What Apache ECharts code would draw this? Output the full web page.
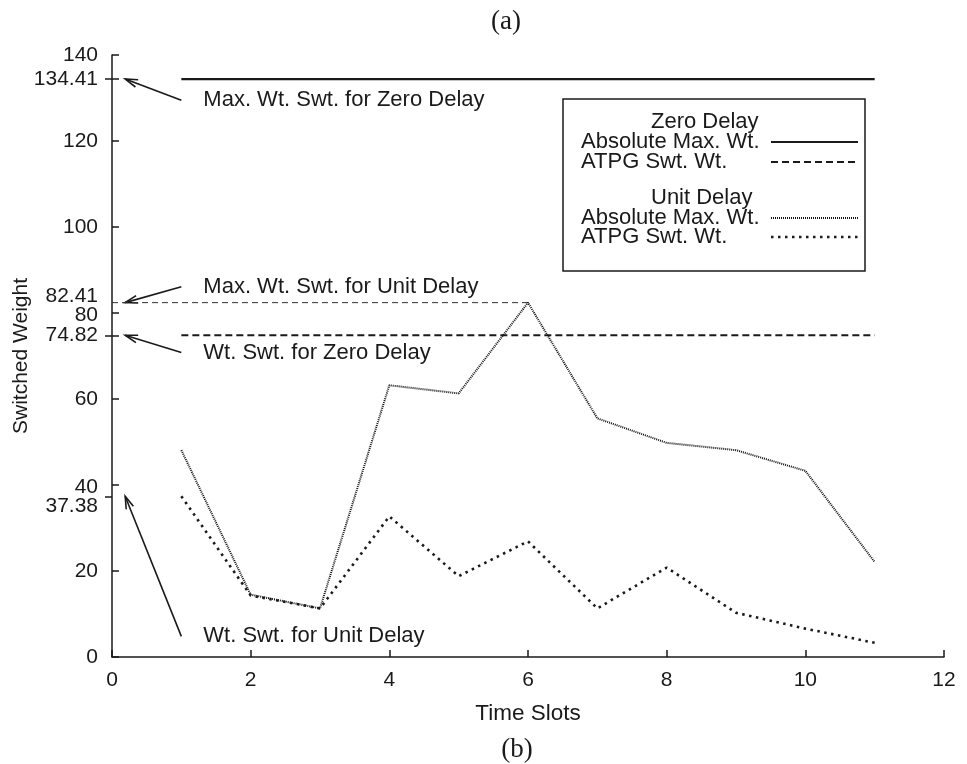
<!DOCTYPE html>
<html>
<head>
<meta charset="utf-8">
<script src="https://cdn.jsdelivr.net/npm/echarts@6/dist/echarts.min.js"></script>
<style>
  html, body { margin: 0; padding: 0; background: #fff; }
  #chart { width: 967px; height: 764px; }
</style>
</head>
<body>
<div id="chart"></div>
<script>
// time slots on x
var slots = [1, 2, 3, 4, 5, 6, 7, 8, 9, 10, 11];
// unit delay curves
var unitMax = [48.1, 14.5, 11.3, 63.2, 61.3, 82.41, 55.5, 49.8, 48.1, 43.3, 22.1];
var unitAtpg = [37.38, 14.3, 11.3, 32.7, 18.8, 26.9, 11.3, 20.8, 10.3, 6.6, 3.3];
// zero delay levels (flat over slots 1..11)
var zeroMax = 134.41;
var zeroAtpg = 74.82;
var zeroSpan = [1, 11];
// guide for unit delay max, from axis to its peak slot
var unitPeak = 82.41;
var unitPeakSlot = 6;

// y tick labels
var yLabels = [0, 20, 37.38, 40, 60, 74.82, 80, 82.41, 100, 120, 134.41, 140];
var yTicksIn = [0, 20, 40, 60, 80, 100, 120, 140, 134.41, 74.82];
var yTicksOut = [134.41, 74.82, 37.38];

// annotations: tail (x,y), tip (x,y), text
var annTail = [[1, 129.5], [1, 86.1], [1, 70.8], [1, 4.8]];
var annTip = [[0.19, 134.41], [0.19, 82.41], [0.19, 74.82], [0.19, 37.38]];
var annText = ['Max. Wt. Swt. for Zero Delay', 'Max. Wt. Swt. for Unit Delay',
               'Wt. Swt. for Zero Delay', 'Wt. Swt. for Unit Delay'];

var FONT = 'Liberation Sans';
var INK = '#1a1a1a';

function pairs(xs, ys) {
    var out = [];
    for (var i = 0; i < xs.length; i++) out.push([xs[i], ys[i]]);
    return out;
}

var annData = [];
for (var i = 0; i < annTail.length; i++) {
    annData.push([annTail[i][0], annTail[i][1], annTip[i][0], annTip[i][1]]);
}

function legendText(x, y, s) {
    return { type: 'text', x: x, y: y, z: 11,
             style: { text: s, fontFamily: FONT, fontSize: 22, fill: INK, align: 'left', verticalAlign: 'middle' } };
}

var myChart = echarts.init(document.getElementById('chart'));

var option = {
    backgroundColor: '#fff',
    animation: false,
    grid: { left: 112, right: 23, top: 55, bottom: 107, containLabel: false, outerBoundsMode: 'none' },
    xAxis: {
        type: 'value', min: 0, max: 12, interval: 2,
        name: 'Time Slots', nameLocation: 'middle', nameGap: 45, nameMoveOverlap: false,
        nameTextStyle: { fontFamily: FONT, fontSize: 22.5, color: INK },
        axisLine: { show: true, lineStyle: { color: INK, width: 1.5 } },
        axisTick: { show: true, inside: true, length: 7, lineStyle: { color: INK, width: 1.5 } },
        axisLabel: { margin: 13, fontFamily: FONT, fontSize: 21, color: INK },
        splitLine: { show: false }
    },
    yAxis: [{
        type: 'value', min: 0, max: 140,
        name: 'Switched Weight', nameLocation: 'middle', nameGap: 80, nameMoveOverlap: false,
        nameTextStyle: { fontFamily: FONT, fontSize: 21, color: INK },
        axisLine: { show: true, lineStyle: { color: INK, width: 1.5 } },
        axisTick: { show: true, inside: true, length: 7, customValues: yTicksIn, lineStyle: { color: INK, width: 1.5 } },
        axisLabel: {
            margin: 14, fontFamily: FONT, fontSize: 21, color: INK,
            customValues: yLabels,
            formatter: function (v) {
                //几个挤在一起的标签需要上下挪一下
                if (v === 82.41) return '{up|' + v + '}';
                if (v === 80 || v === 40) return '{dn|' + v + '}';
                if (v === 37.38) return '{dn2|' + v + '}';
                return '{n|' + v + '}';
            },
            rich: {
                n: { fontFamily: FONT, fontSize: 21, color: INK },
                up: { fontFamily: FONT, fontSize: 21, color: INK, padding: [0, 0, 12, 0] },
                dn: { fontFamily: FONT, fontSize: 21, color: INK, padding: [4, 0, 0, 0] },
                dn2: { fontFamily: FONT, fontSize: 21, color: INK, padding: [20, 0, 0, 0] }
            }
        },
        splitLine: { show: false }
    }, {
        type: 'value', min: 0, max: 140, position: 'left',
        axisLine: { show: false },
        axisTick: { show: true, inside: false, length: 7, customValues: yTicksOut, lineStyle: { color: INK, width: 1.5 } },
        axisLabel: { show: false },
        splitLine: { show: false }
    }],
    series: [{
        name: 'Zero Absolute Max', type: 'line', showSymbol: false,
        data: [[zeroSpan[0], zeroMax], [zeroSpan[1], zeroMax]],
        lineStyle: { color: INK, width: 2.2, type: 'solid' }
    }, {
        name: 'Zero ATPG', type: 'line', showSymbol: false,
        data: [[zeroSpan[0], zeroAtpg], [zeroSpan[1], zeroAtpg]],
        lineStyle: { color: INK, width: 2.2, type: [7, 4] }
    }, {
        name: 'Unit peak guide', type: 'line', showSymbol: false,
        data: [[0, unitPeak], [unitPeakSlot, unitPeak]],
        lineStyle: { color: '#333', width: 1, type: [6, 4] }
    }, {
        name: 'Unit Absolute Max', type: 'line', showSymbol: false,
        data: pairs(slots, unitMax),
        lineStyle: { color: '#111', width: 2, type: [1, 1] }
    }, {
        name: 'Unit ATPG', type: 'line', showSymbol: false,
        data: pairs(slots, unitAtpg),
        lineStyle: { color: INK, width: 2.6, type: [2.5, 4.5] }
    }, {
        name: 'annotations', type: 'custom', clip: false,
        data: annData,
        renderItem: function (params, api) {
            var p1 = api.coord([api.value(0), api.value(1)]);
            var p2 = api.coord([api.value(2), api.value(3)]);
            var ang = Math.atan2(p2[1] - p1[1], p2[0] - p1[0]);
            var h = 13, s = 0.3;
            var a1 = [p2[0] - h * Math.cos(ang - s), p2[1] - h * Math.sin(ang - s)];
            var a2 = [p2[0] - h * Math.cos(ang + s), p2[1] - h * Math.sin(ang + s)];
            return {
                type: 'group',
                children: [
                    { type: 'line', shape: { x1: p1[0], y1: p1[1], x2: p2[0], y2: p2[1] },
                      style: { stroke: INK, lineWidth: 1.6 } },
                    { type: 'polyline', shape: { points: [a1, p2, a2] },
                      style: { stroke: INK, lineWidth: 1.6, fill: null } },
                    { type: 'text', x: p1[0] + 22, y: p1[1],
                      style: { text: annText[params.dataIndex], fontFamily: FONT, fontSize: 22, fill: INK,
                               align: 'left', verticalAlign: 'middle' } }
                ]
            };
        }
    }],
    graphic: [
        { type: 'text', x: 506, y: 22, style: { text: '(a)', fontFamily: 'Liberation Serif', fontSize: 27, fill: INK, align: 'center', verticalAlign: 'middle' } },
        { type: 'text', x: 517, y: 750, style: { text: '(b)', fontFamily: 'Liberation Serif', fontSize: 27, fill: INK, align: 'center', verticalAlign: 'middle' } },
        //图例框
        { type: 'rect', shape: { x: 563, y: 99, width: 302, height: 172 }, style: { stroke: INK, lineWidth: 1.5, fill: '#fff' }, z: 10 },
        legendText(651, 122, 'Zero Delay'),
        legendText(581, 142, 'Absolute Max. Wt.'),
        legendText(581, 162, 'ATPG Swt. Wt.'),
        legendText(651, 198, 'Unit Delay'),
        legendText(581, 218, 'Absolute Max. Wt.'),
        legendText(581, 237, 'ATPG Swt. Wt.'),
        { type: 'line', z: 11, shape: { x1: 771, y1: 142, x2: 858, y2: 142 }, style: { stroke: INK, lineWidth: 2.2 } },
        { type: 'line', z: 11, shape: { x1: 771, y1: 162, x2: 858, y2: 162 }, style: { stroke: INK, lineWidth: 2.2, lineDash: [7, 4] } },
        { type: 'line', z: 11, shape: { x1: 771, y1: 218, x2: 858, y2: 218 }, style: { stroke: '#111', lineWidth: 2, lineDash: [1, 1] } },
        { type: 'line', z: 11, shape: { x1: 771, y1: 237, x2: 858, y2: 237 }, style: { stroke: INK, lineWidth: 2.6, lineDash: [2.5, 4.5] } }
    ]
};

myChart.setOption(option);
</script>
</body>
</html>
